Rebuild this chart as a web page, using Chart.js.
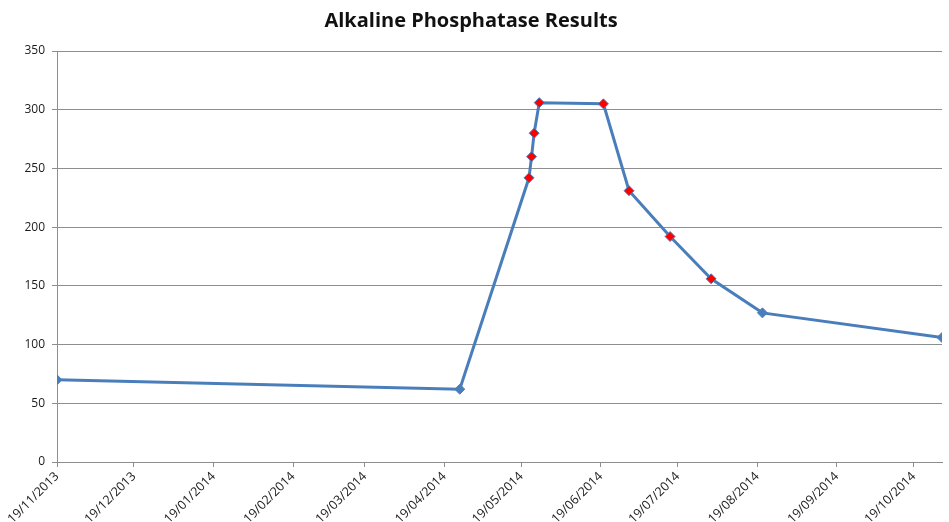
<!DOCTYPE html>
<html lang="en">

<head>
    <meta charset="UTF-8">
    <title>Alkaline Phosphatase Results</title>
    <script src="https://cdn.jsdelivr.net/npm/chart.js"></script>
    <style>
        body {
            margin: 0;
            background-color: #ffffff;
        }

        #chartContainer {
            width: 949px;
            height: 522px;
            position: relative;
        }
    </style>
</head>

<body>
<div id="chartContainer">
    <canvas id="alpChart"></canvas>
</div>

<script>
    // test dates (yyyy-mm-dd) and results
    const testDates = ['2013-11-19', '2014-04-25', '2014-05-22', '2014-05-23', '2014-05-24', '2014-05-26',
        '2014-06-20', '2014-06-30', '2014-07-16', '2014-08-01', '2014-08-21', '2014-10-30'];
    const alpValues = [70, 62, 242, 260, 280, 306, 305, 231, 192, 156, 127, 106];

    // x axis tick labels
    const tickLabels = ['19/11/2013', '19/12/2013', '19/01/2014', '19/02/2014', '19/03/2014', '19/04/2014',
        '19/05/2014', '19/06/2014', '19/07/2014', '19/08/2014', '19/09/2014', '19/10/2014'];
    const yTicks = [0, 50, 100, 150, 200, 250, 300, 350];

    // days since epoch, so a linear scale can act as a date axis
    function isoToDay(s) {
        const p = s.split('-').map(Number);
        return Date.UTC(p[0], p[1] - 1, p[2]) / 864e5;
    }

    function dmyToDay(s) {
        const p = s.split('/').map(Number);
        return Date.UTC(p[2], p[1] - 1, p[0]) / 864e5;
    }

    const blue = '#4a7ebb';
    const gridGrey = '#8e8e8e';
    const fontFamily = "'Open Sans', 'DejaVu Sans', sans-serif";

    const points = testDates.map((d, i) => ({x: isoToDay(d), y: alpValues[i]}));

    // the middle run of results is flagged red
    function markerColor(ctx) {
        return (ctx.dataIndex >= 2 && ctx.dataIndex <= 9) ? '#ff0000' : blue;
    }

    new Chart(document.getElementById('alpChart'), {
        type: 'line',
        data: {
            datasets: [{
                label: 'ALP',
                data: points,
                borderColor: blue,
                borderWidth: 3,
                tension: 0,
                pointStyle: 'rectRot',
                pointRadius: 5,
                pointHoverRadius: 5,
                pointBackgroundColor: markerColor,
                pointBorderColor: blue,
                pointBorderWidth: 1
            }]
        },
        options: {
            responsive: true,
            maintainAspectRatio: false,
            animation: false,
            layout: {
                padding: {left: 0, right: 7, top: 0, bottom: 0}
            },
            plugins: {
                legend: {display: false},
                tooltip: {enabled: false},
                title: {
                    display: true,
                    text: 'Alkaline Phosphatase Results',
                    color: '#111',
                    font: {family: fontFamily, size: 20, weight: 'bold'},
                    padding: {top: 9, bottom: 18}
                }
            },
            scales: {
                x: {
                    type: 'linear',
                    min: isoToDay(testDates[0]),
                    max: isoToDay(testDates[testDates.length - 1]),
                    afterBuildTicks: (scale) => {
                        scale.ticks = tickLabels.map(l => ({value: dmyToDay(l)}));
                    },
                    afterFit: (scale) => {
                        scale.height = 60;
                    },
                    grid: {
                        drawOnChartArea: false,
                        drawTicks: true,
                        tickLength: 5,
                        color: gridGrey
                    },
                    border: {color: gridGrey, width: 1},
                    ticks: {
                        autoSkip: false,
                        maxRotation: 45,
                        minRotation: 45,
                        padding: 2,
                        color: '#1a1a1a',
                        font: {family: fontFamily, size: 12.5},
                        callback: (v, i) => tickLabels[i]
                    }
                },
                y: {
                    min: 0,
                    max: 350,
                    afterBuildTicks: (scale) => {
                        scale.ticks = yTicks.map(v => ({value: v}));
                    },
                    afterFit: (scale) => {
                        scale.width = 57;
                    },
                    grid: {
                        color: gridGrey,
                        tickLength: 5
                    },
                    border: {color: gridGrey, width: 1},
                    ticks: {
                        padding: 7,
                        color: '#1a1a1a',
                        font: {family: fontFamily, size: 12}
                    }
                }
            }
        }
    });
</script>
</body>

</html>
